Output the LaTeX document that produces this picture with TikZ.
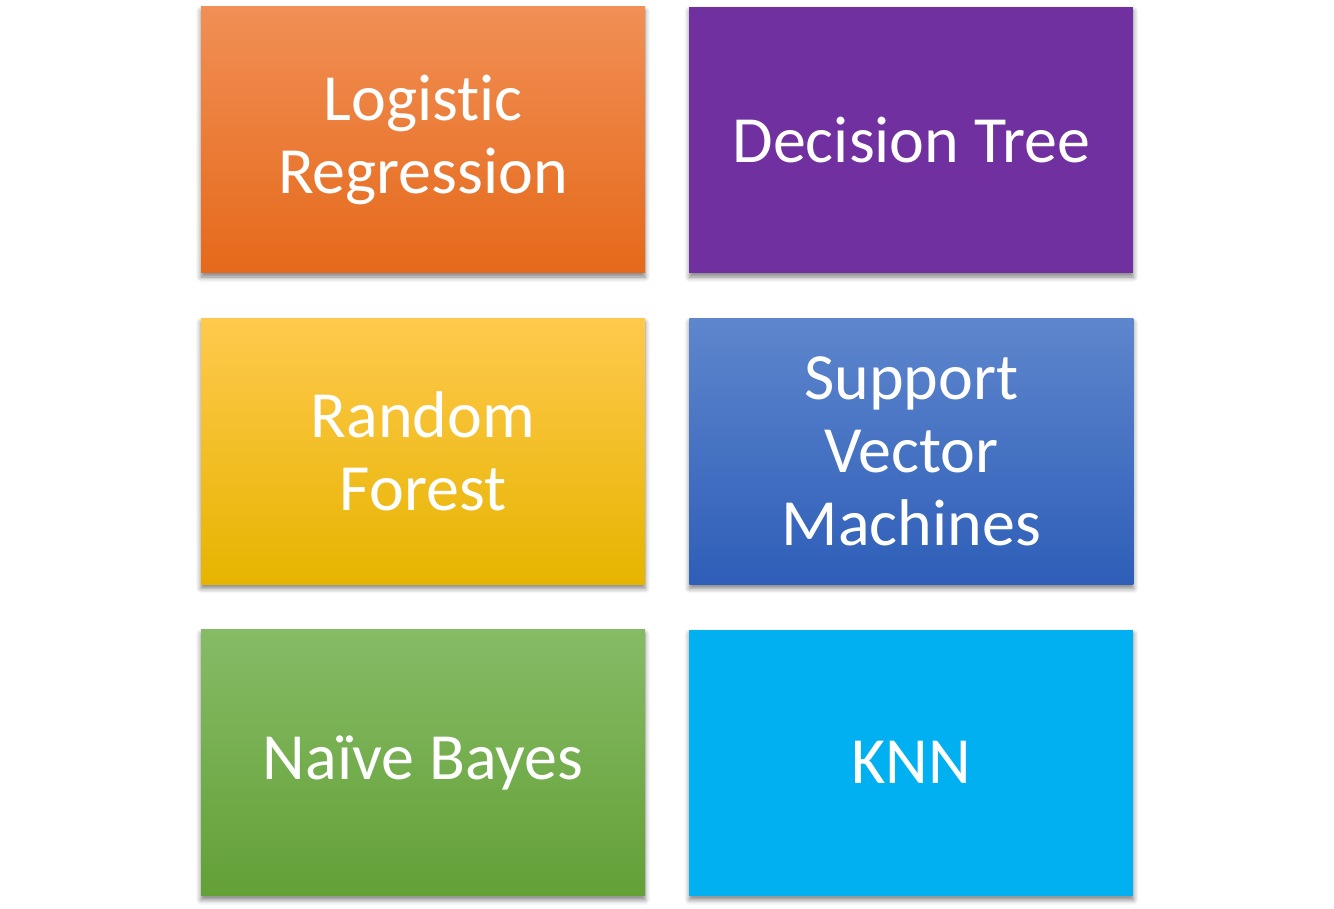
\documentclass[tikz,border=0pt]{standalone}
\usepackage{fontspec}
\setmainfont{Carlito}[Ligatures=NoCommon]
\usepackage{tikz}
\usetikzlibrary{positioning,shadows.blur}

\definecolor{lrtop}{HTML}{F18F55}
\definecolor{lrbot}{HTML}{E5691A}
\definecolor{dtfill}{HTML}{7030A0}
\definecolor{rftop}{HTML}{FFC94D}
\definecolor{rfmid}{HTML}{FFC000}
\definecolor{rfbot}{HTML}{E6B400}
\definecolor{svtop}{HTML}{5E86CD}
\definecolor{svbot}{HTML}{2E5EB8}
\definecolor{nbtop}{HTML}{86BB66}
\definecolor{nbbot}{HTML}{63A036}
\definecolor{knfill}{HTML}{00B0F0}

\begin{document}
\begin{tikzpicture}[x=1pt,y=1pt,
  node distance=45pt and 44pt,
  every node/.style = {shape=rectangle, minimum width=444pt,
    minimum height=266pt, text=white, align=center,
    font=\fontsize{66}{73}\selectfont,
    blur shadow={shadow xshift=0pt, shadow yshift=-4pt,
      shadow blur radius=5pt, shadow opacity=50}}]
  \useasboundingbox (0,0) rectangle (1334,-909);
  \node[top color=lrtop, bottom color=lrbot] (logreg) at (423,-140) {Logistic\\Regression};
  \node[fill=dtfill, right=of logreg] (dtree) {Decision Tree};
  \node[top color=rftop, middle color=rfmid, bottom color=rfbot, below=of logreg] (rforest) {Random\\Forest};
  \node[top color=svtop, bottom color=svbot, below=of dtree] (svm) {Support\\Vector\\Machines};
  \node[top color=nbtop, bottom color=nbbot, below=of rforest] (nbayes) {Naïve Bayes};
  \node[fill=knfill, below=of svm] (knn) {KNN};
\end{tikzpicture}
\end{document}
